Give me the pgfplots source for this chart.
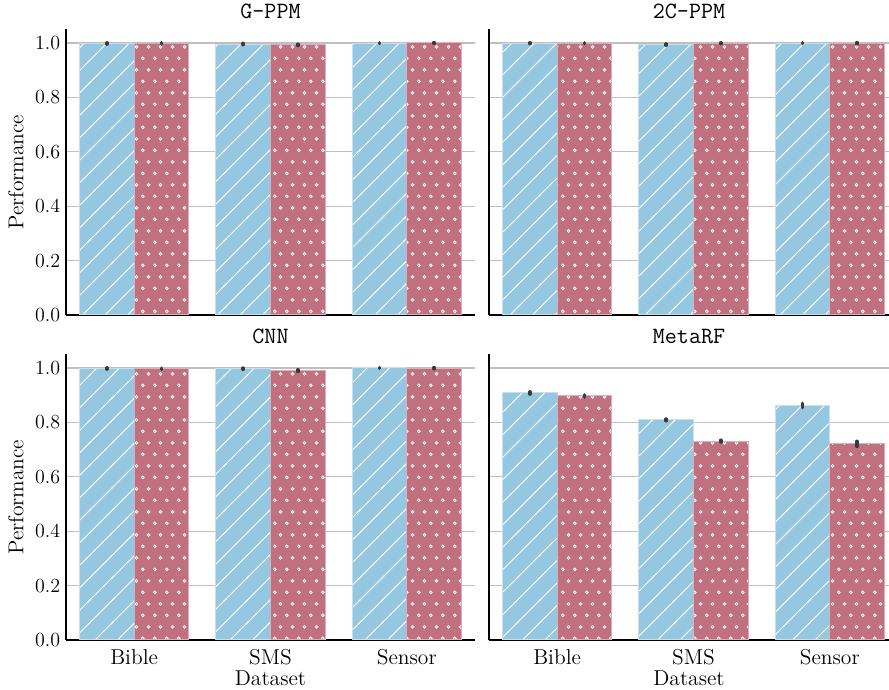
\documentclass[border=0pt]{standalone}
\usepackage{pgfplots}
\pgfplotsset{compat=1.18}
\usetikzlibrary{patterns,patterns.meta}
\definecolor{cblue}{HTML}{95C7E0}
\definecolor{cred}{HTML}{C0707E}
\definecolor{ebar}{HTML}{3A3A3A}

\pgfdeclarepattern{name=hlines, type=uncolored,
  bottom left={\pgfpoint{-1pt}{-1pt}}, top right={\pgfpoint{14.5pt}{14.5pt}},
  tile size={\pgfpoint{13.5pt}{13.5pt}},
  code={\pgfsetlinewidth{0.5pt}\pgfpathmoveto{\pgfpoint{-1pt}{-1pt}}\pgfpathlineto{\pgfpoint{14.5pt}{14.5pt}}\pgfusepath{stroke}}}
\pgfdeclarepattern{name=rings, type=uncolored,
  bottom left={\pgfpointorigin}, top right={\pgfpoint{7pt}{14pt}},
  tile size={\pgfpoint{7pt}{14pt}},
  code={\pgfsetlinewidth{0.5pt}\pgfpathcircle{\pgfpoint{1.75pt}{3.5pt}}{0.85pt}\pgfpathcircle{\pgfpoint{5.25pt}{10.5pt}}{0.85pt}\pgfusepath{stroke}}}

\pgfplotsset{
  panel/.style={
    ybar=0pt, bar width=0.4,
    scale only axis, width=245.4pt, height=171.4pt,
    xmin=-0.5, xmax=2.5, ymin=0, ymax=1.05,
    xtick={0,1,2}, xticklabels={Bible,SMS,Sensor},
    ytick={0,0.2,0.4,0.6,0.8,1.0},
    yticklabel style={font=\fontsize{11.7}{14}\selectfont, /pgf/number format/.cd, fixed, fixed zerofill, precision=1},
    axis x line*=bottom, axis y line*=left,
    axis line style={line width=0.8pt, -},
    major tick length=0pt,
    ymajorgrids, grid style={black!25, line width=0.7pt},
    xticklabel style={font=\fontsize{12.9}{15}\selectfont, yshift=-2pt},
    label style={font=\fontsize{12.9}{15}\selectfont},
    title style={font=\ttfamily\fontsize{14}{16}\selectfont, yshift=-3.5pt},
    error bars/y dir=both, error bars/y explicit,
    error bars/error mark=none,
    error bars/error bar style={line width=2.2pt, color=ebar, line cap=round},
  },
  bb/.style={fill=cblue, draw=cblue!55!white, line width=0.6pt, postaction={pattern=hlines, pattern color=white}},
  rr/.style={fill=cred, draw=cred!55!white, line width=0.6pt, postaction={pattern=rings, pattern color=white}},
}

\begin{document}
\begin{tikzpicture}
\path[use as bounding box] (0,0) rectangle (533.4pt,414pt);

% top left
\begin{axis}[panel, at={(39.6pt,225pt)}, anchor=south west, title={G-PPM}, ylabel={Performance}, xticklabels={}]
\addplot[bb] coordinates {(0,0.998) +- (0,0.002) (1,0.996) +- (0,0.002) (2,0.999) +- (0,0.001)};
\addplot[rr] coordinates {(0,0.999) +- (0,0.002) (1,0.993) +- (0,0.002) (2,1.000) +- (0,0.001)};
\end{axis}

% top right
\begin{axis}[panel, at={(293.4pt,225pt)}, anchor=south west, width=240pt, xmax=2.434, title={2C-PPM}, yticklabels={}, xticklabels={}]
\addplot[bb] coordinates {(0,0.999) +- (0,0.001) (1,0.994) +- (0,0.002) (2,0.999) +- (0,0.001)};
\addplot[rr] coordinates {(0,0.999) +- (0,0.001) (1,0.999) +- (0,0.001) (2,0.999) +- (0,0.002)};
\end{axis}

% bottom left
\begin{axis}[panel, at={(39.6pt,30pt)}, anchor=south west, title={CNN}, ylabel={Performance}]
\addplot[bb] coordinates {(0,0.998) +- (0,0.002) (1,0.997) +- (0,0.002) (2,1.000) +- (0,0.001)};
\addplot[rr] coordinates {(0,0.997) +- (0,0.002) (1,0.990) +- (0,0.003) (2,0.999) +- (0,0.002)};
\end{axis}

% bottom right
\begin{axis}[panel, at={(293.4pt,30pt)}, anchor=south west, width=240pt, xmax=2.434, title={MetaRF}, yticklabels={}]
\addplot[bb] coordinates {(0,0.908) +- (0,0.004) (1,0.809) +- (0,0.003) (2,0.862) +- (0,0.008)};
\addplot[rr] coordinates {(0,0.897) +- (0,0.004) (1,0.731) +- (0,0.003) (2,0.721) +- (0,0.009)};
\end{axis}

\node[font=\fontsize{12.9}{15}\selectfont] at (162.3pt,7.2pt) {Dataset};
\node[font=\fontsize{12.9}{15}\selectfont] at (413.4pt,7.2pt) {Dataset};
\end{tikzpicture}
\end{document}
